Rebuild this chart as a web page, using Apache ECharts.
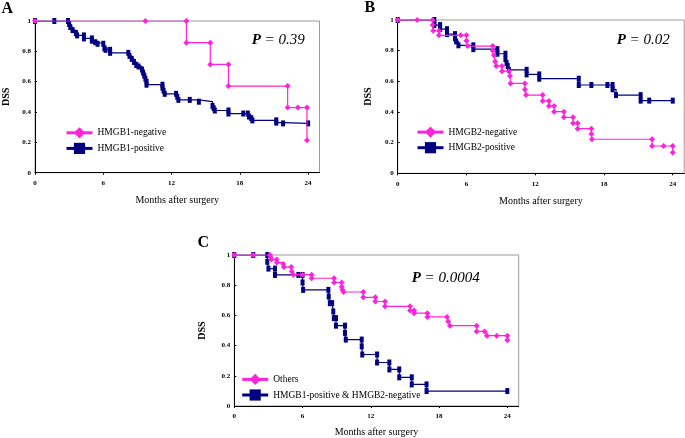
<!DOCTYPE html>
<html>
<head>
<meta charset="utf-8">
<script src="https://cdn.jsdelivr.net/npm/echarts@6/dist/echarts.min.js"></script>
<style>html,body{margin:0;padding:0;background:#fff}#c{width:685px;height:438px}</style>
</head>
<body>
<div id="c"></div>
<script>
// ---- data (months, survival) ----
var xTicks = [0, 6, 12, 18, 24];
var seriesNames = ['HMGB1-negative', 'HMGB1-positive', 'HMGB2-negative', 'HMGB2-positive', 'Others', 'HMGB1-positive & HMGB2-negative'];
var pValues = ['0.39', '0.02', '0.0004'];
var panelLetters = ['A', 'B', 'C'];

var aNeg = [[0,1],[9.7,1],[13.3,1],[13.3,0.857],[15.4,0.857],[15.4,0.714],[17.0,0.714],[17.0,0.571],[22.2,0.571],[22.2,0.429],[23.1,0.429],[23.9,0.429],[23.9,0.214]];
var aPos = [[0,1],[1.7,1],[2.9,1],[3.0,0.98],[3.1,0.96],[3.3,0.94],[3.6,0.92],[3.7,0.905],[4.3,0.905],[4.3,0.885],[5.0,0.885],[5.0,0.87],[5.3,0.86],[5.5,0.85],[6.0,0.85],[6.1,0.82],[6.2,0.81],[6.6,0.81],[6.6,0.79],[8.2,0.79],[8.3,0.77],[8.5,0.75],[8.7,0.73],[8.9,0.71],[9.1,0.70],[9.4,0.68],[9.5,0.66],[9.6,0.64],[9.7,0.62],[9.8,0.60],[9.8,0.58],[11.2,0.58],[11.2,0.56],[11.3,0.54],[11.4,0.52],[12.4,0.52],[12.5,0.50],[12.6,0.48],[13.6,0.48],[14.4,0.468],[15.6,0.44],[15.7,0.425],[15.8,0.41],[17.0,0.41],[17.0,0.39],[18.3,0.39],[18.7,0.39],[18.8,0.37],[19.0,0.36],[19.1,0.345],[21.2,0.345],[21.2,0.33],[21.8,0.325],[24,0.325]];
var bNeg = [[0,1],[1.7,1],[3.05,1],[3.05,0.967],[3.1,0.93],[3.6,0.93],[3.6,0.90],[5.5,0.90],[6.0,0.90],[6.0,0.865],[6.1,0.83],[8.3,0.83],[8.3,0.80],[8.4,0.77],[8.5,0.73],[8.6,0.70],[9.1,0.70],[9.1,0.666],[9.7,0.666],[9.8,0.635],[9.85,0.586],[11.1,0.586],[11.1,0.547],[11.2,0.51],[12.65,0.51],[12.65,0.472],[13.2,0.472],[13.2,0.439],[13.65,0.439],[13.65,0.402],[14.5,0.402],[14.5,0.365],[15.3,0.365],[15.3,0.326],[15.7,0.326],[15.7,0.291],[16.9,0.291],[16.9,0.256],[16.95,0.222],[22.2,0.222],[22.2,0.178],[23.2,0.178],[24,0.178],[24,0.135]];
var bPos = [[0,1],[3.2,1],[3.2,0.967],[3.7,0.967],[3.7,0.94],[4.3,0.94],[4.3,0.908],[5.0,0.908],[5.0,0.88],[5.1,0.86],[5.3,0.835],[6.6,0.835],[6.6,0.81],[8.7,0.81],[8.7,0.78],[9.4,0.78],[9.4,0.745],[9.5,0.72],[9.6,0.70],[9.7,0.675],[11.25,0.675],[11.25,0.645],[12.35,0.645],[12.35,0.617],[15.8,0.617],[15.8,0.576],[16.9,0.576],[18.3,0.576],[18.75,0.576],[18.75,0.548],[19.05,0.51],[21.2,0.51],[21.2,0.474],[21.95,0.474],[24,0.474]];
var cOthers = [[0,1],[1.67,1],[3.14,1],[3.2,0.985],[3.25,0.97],[3.72,0.97],[3.75,0.95],[4.3,0.94],[4.35,0.92],[5.0,0.92],[5.05,0.89],[5.2,0.87],[6.0,0.87],[6.8,0.87],[6.8,0.846],[8.77,0.846],[8.77,0.818],[9.44,0.818],[9.44,0.79],[9.5,0.77],[9.6,0.755],[11.34,0.755],[11.34,0.72],[12.4,0.72],[12.4,0.692],[13.25,0.692],[13.25,0.66],[15.45,0.66],[15.45,0.633],[15.8,0.633],[15.8,0.615],[16.97,0.615],[16.97,0.59],[18.7,0.59],[18.8,0.56],[18.96,0.532],[21.3,0.532],[21.3,0.494],[22.0,0.494],[22.2,0.466],[23.07,0.466],[24,0.466],[24,0.435]];
var cDouble = [[0,1],[1.67,1],[2.9,1],[2.9,0.955],[3.0,0.91],[3.58,0.91],[3.58,0.868],[5.63,0.868],[6.0,0.868],[6.0,0.818],[6.05,0.769],[8.27,0.769],[8.3,0.725],[8.4,0.681],[8.6,0.681],[8.7,0.626],[8.75,0.582],[8.94,0.582],[8.94,0.532],[9.73,0.532],[9.73,0.484],[9.8,0.44],[11.2,0.44],[11.2,0.395],[11.25,0.341],[12.55,0.341],[12.55,0.288],[13.63,0.288],[13.63,0.242],[14.5,0.242],[14.5,0.19],[15.6,0.19],[15.6,0.143],[16.9,0.143],[16.9,0.099],[24,0.099]];

// ---- styling / layout ----
var SERIF = "'Liberation Serif','Times New Roman',serif";
var PINK = '#ff22dd', NAVY = '#000080';
var grids = [
  {left: 34.7, top: 21, width: 284.8, height: 151.7},
  {left: 397.7, top: 20, width: 286.5, height: 153.3},
  {left: 234.3, top: 255, width: 284.4, height: 151.7}
];
var nameGapsX = [23, 23, 21], nameGapsY = [24, 24, 27];
var legendPos = [{left: 65, top: 127.2}, {left: 416, top: 126.5}, {left: 240.7, top: 373.8}];
var pPos = [[251.7, 40], [616.7, 40], [411.7, 278.3]];
var letterPos = [[1.5, 9], [364.5, 8], [197.5, 243]];

var chart = echarts.init(document.getElementById('c'), null, {renderer: 'canvas'});
var xAxes = [], yAxes = [], legends = [], graphics = [];
for (var i = 0; i < 3; i++) {
  grids[i].show = true; grids[i].borderColor = '#9a9a9a'; grids[i].borderWidth = 1;
  xAxes.push({
    type: 'value', gridIndex: i, min: 0, max: 25, interval: 6,
    axisLine: {show: true, onZero: false, lineStyle: {color: '#000', width: 1}},
    axisTick: {show: true, length: 2, lineStyle: {color: '#000'}},
    axisLabel: {fontSize: 7, fontWeight: 'bold', fontFamily: SERIF, color: '#000', margin: 7, showMaxLabel: false},
    splitLine: {show: false},
    name: 'Months after surgery', nameLocation: 'middle', nameGap: nameGapsX[i],
    nameTextStyle: {fontSize: 10, fontFamily: SERIF, color: '#000'}
  });
  yAxes.push({
    type: 'value', gridIndex: i, min: 0, max: 1, interval: 0.2,
    axisLine: {show: true, lineStyle: {color: '#000', width: 1}},
    axisTick: {show: true, inside: true, length: 2, lineStyle: {color: '#000'}},
    axisLabel: {fontSize: 7, fontWeight: 'bold', fontFamily: SERIF, color: '#000', margin: 4},
    splitLine: {show: false},
    name: 'DSS', nameLocation: 'middle', nameGap: nameGapsY[i],
    nameTextStyle: {fontSize: 10, fontWeight: 'bold', fontFamily: SERIF, color: '#000'}
  });
  legends.push({
    data: [seriesNames[2 * i], seriesNames[2 * i + 1]],
    orient: 'vertical', left: legendPos[i].left, top: legendPos[i].top,
    padding: 0,
    itemWidth: 26, itemHeight: 14, itemGap: 4.4,
    lineStyle: {width: 3},
    textStyle: {fontSize: 9.5, fontFamily: SERIF, color: '#000'},
    selectedMode: false
  });
  graphics.push({
    type: 'text', x: pPos[i][0], y: pPos[i][1],
    style: {
      text: '{p|P}{t| = ' + pValues[i] + '}',
      textVerticalAlign: 'middle', verticalAlign: 'middle',
      rich: {
        p: {fontFamily: SERIF, fontSize: 15, fontStyle: 'italic', fontWeight: 'bold', fill: '#000'},
        t: {fontFamily: SERIF, fontSize: 15, fontStyle: 'italic', fill: '#000'}
      }
    }
  });
  graphics.push({
    type: 'text', x: letterPos[i][0], y: letterPos[i][1],
    style: {text: panelLetters[i], font: 'bold 16px ' + SERIF, fill: '#000', verticalAlign: 'middle', textVerticalAlign: 'middle'}
  });
}

var dataSets = [aNeg, aPos, bNeg, bPos, cOthers, cDouble];
var series = dataSets.map(function (d, k) {
  var isPink = (k % 2 === 0);
  var g = Math.floor(k / 2);
  return {
    type: 'line', name: seriesNames[k], xAxisIndex: g, yAxisIndex: g,
    data: d, step: 'end', animation: false,
    symbol: isPink ? 'diamond' : 'rect',
    symbolSize: isPink ? 6 : [4, 6],
    showAllSymbol: true,
    lineStyle: {color: isPink ? PINK : NAVY, width: 1.2},
    itemStyle: {color: isPink ? PINK : NAVY},
    z: isPink ? 3 : 2
  };
});

chart.setOption({
  animation: false,
  backgroundColor: '#fff',
  grid: grids,
  xAxis: xAxes,
  yAxis: yAxes,
  legend: legends,
  series: series,
  graphic: graphics
});
</script>
</body>
</html>
